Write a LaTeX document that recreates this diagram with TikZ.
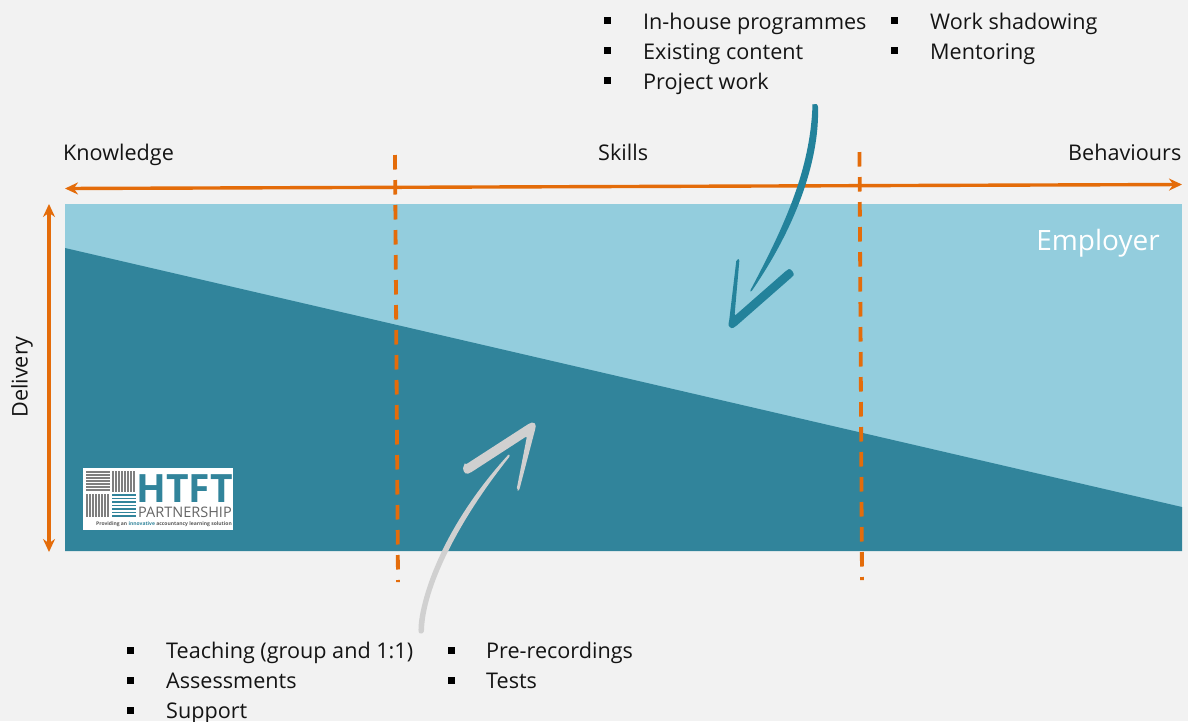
\documentclass[tikz,border=0pt]{standalone}
\usepackage{fontspec}
\setmainfont{Open Sans}
\usetikzlibrary{arrows.meta}
\definecolor{bgc}{HTML}{F2F2F2}
\definecolor{lightb}{HTML}{93CDDD}
\definecolor{darkb}{HTML}{31849B}
\definecolor{orangec}{HTML}{E46C0A}
\definecolor{arrowteal}{HTML}{23829B}
\definecolor{arrowgrey}{HTML}{D0D0D0}
\definecolor{logogrey}{HTML}{7F7F7F}
\tikzset{
  lab/.style={inner sep=0pt,text height=16pt,text depth=5pt,font=\fontsize{21.6}{24}\selectfont,text=black!92,anchor=west},
  bul/.style={fill=black,inner sep=0pt,minimum size=7pt,draw=none},
  axis/.style={draw=orangec,line width=3.4pt,{Stealth[length=13pt,width=12pt]}-{Stealth[length=13pt,width=12pt]}},
  divider/.style={draw=orangec,line width=3.8pt,dash pattern=on 14.5pt off 10.5pt},
  hatch/.style={draw=logogrey,line width=1.1pt},
  hatchb/.style={draw=darkb,line width=1.3pt}
}
\begin{document}
\begin{tikzpicture}[x=1pt,y=-1pt]
\useasboundingbox (0,0) rectangle (1188,721);
\fill[bgc] (0,0) rectangle (1188,721);
% panel
\fill[lightb] (65,204) rectangle (1182,551);
\fill[darkb] (65,248) -- (1182,507) -- (1182,551) -- (65,551) -- cycle;
% axes
\coordinate (hl) at (65,188.5); \coordinate (hr) at (1182,184.5);
\coordinate (vt) at (49,204); \coordinate (vb) at (49,552);
\draw[axis] (hl) -- (hr);
\draw[axis] (vt) -- (vb);
\coordinate (d1t) at (395,155); \coordinate (d1b) at (398,582);
\coordinate (d2t) at (859.5,152); \coordinate (d2b) at (862,580);
\draw[divider] (d1t) -- (d1b);
\draw[divider] (d2t) -- (d2b);
% axis labels
\node[lab] (know) at (63,155) {Knowledge};
\node[lab] (skills) at (598,155) {Skills};
\node[lab,anchor=east] (behav) at (1181.5,155) {Behaviours};
\node[lab,rotate=90,anchor=center] (deliv) at (22,377) {Delivery};
\node[lab,anchor=east,text=white,font=\fontsize{28}{30}\selectfont] (emp) at (1160,245) {Employer};
% top lists
\node[bul] (b1) at (607,20) {}; \node[lab] (t1) at (643,23.5) {In-house programmes};
\node[bul] (b2) at (607,50) {}; \node[lab] (t2) at (643,53.5) {Existing content};
\node[bul] (b3) at (607,80) {}; \node[lab] (t3) at (643,83.5) {Project work};
\node[bul] (b4) at (894,20) {}; \node[lab] (t4) at (930,23.5) {Work shadowing};
\node[bul] (b5) at (894,50) {}; \node[lab] (t5) at (930,53.5) {Mentoring};
% bottom lists
\node[bul] (b6) at (130,650) {}; \node[lab] (t6) at (166,652.5) {Teaching (group and 1:1)};
\node[bul] (b7) at (130,680) {}; \node[lab] (t7) at (166,682.5) {Assessments};
\node[bul] (b8) at (130,710) {}; \node[lab] (t8) at (166,712.5) {Support};
\node[bul] (b9) at (451,650) {}; \node[lab] (t9) at (486,652.5) {Pre-recordings};
\node[bul] (b10) at (451,680) {}; \node[lab] (t10) at (486,682.5) {Tests};
% teal hand-drawn arrow
\fill[arrowteal,rounded corners=1pt]
  (812.5,105) .. controls (815,103) and (818,104) .. (818,108)
  .. controls (819,150) and (804,215) .. (751,292)
  -- (750,291)
  .. controls (785,225) and (810,170) .. (812.5,105) -- cycle;
\fill[arrowteal,rounded corners=2pt]
  (787,270) .. controls (791,268) and (795,274) .. (792,277)
  -- (735,327) .. controls (731,329) and (728,326) .. (729,322)
  -- (736.5,259) -- (739.5,259) -- (734.5,316) -- cycle;
% grey hand-drawn arrow
\fill[arrowgrey,rounded corners=1pt]
  (418.5,631) .. controls (418,610) and (435,535) .. (509,454)
  -- (510,456)
  .. controls (455,525) and (425,590) .. (424,631)
  .. controls (423,634) and (419,634) .. (418.5,631) -- cycle;
\fill[arrowgrey,rounded corners=2pt]
  (465,465) -- (530,423) .. controls (534,422) and (536,424) .. (535.5,428)
  -- (519,491) -- (516.5,490) -- (527,436) -- (470,473)
  .. controls (464,475) and (462,468) .. (465,465) -- cycle;
% logo
\fill[white] (83,468) rectangle (233,530);
\foreach \y in {472,475,...,492} \draw[hatch] (86,\y) -- (110,\y);
\foreach \x in {113,116,...,135} \draw[hatch] (\x,471) -- (\x,492);
\foreach \x in {87,90,...,110} \draw[hatch] (\x,494) -- (\x,517);
\foreach \y in {495,498.5,...,517} \draw[hatchb] (112,\y) -- (136,\y);
\node[inner sep=0pt,anchor=base west,text=darkb,text depth=0pt,font=\fontsize{39}{40}\bfseries\selectfont] (htft) at (136,502) {HTFT};
\node[inner sep=0pt,anchor=base west,text=logogrey!80!black,text height=10pt,text depth=0pt,font=\fontsize{14.5}{15}\selectfont] (part) at (138,517) {PARTNERSHIP};
\node[inner sep=0pt,anchor=west,text=logogrey!70!black,font=\fontsize{5}{6}\bfseries\selectfont] (tag) at (96,524) {Providing an \textcolor{darkb}{innovative} accountancy learning solution};
\end{tikzpicture}
\end{document}
